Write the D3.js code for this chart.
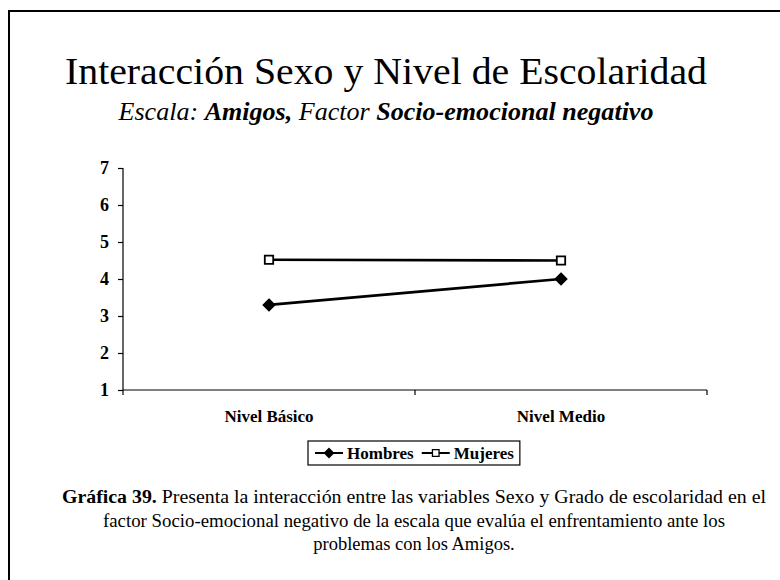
<!DOCTYPE html>
<html>
<head>
<meta charset="utf-8">
<script src="https://cdn.jsdelivr.net/npm/d3@7"></script>
<style>
  html, body { margin: 0; padding: 0; background: #fff; }
  svg { display: block; }
  text { fill: #000; }
</style>
</head>
<body>
<svg id="chart" width="780" height="580"></svg>
<script>
// Data
const categories = ["Nivel Básico", "Nivel Medio"];
const hombres = [3.3, 4.0];
const mujeres = [4.52, 4.5];
const yTicks = [1, 2, 3, 4, 5, 6, 7];
const seriesNames = ["Hombres", "Mujeres"];
const captionLines = [
  [{t: "Gráfica 39.", b: true}, {t: " Presenta la interacción entre las variables Sexo y Grado de escolaridad en el"}],
  [{t: "factor Socio-emocional negativo de la escala que evalúa el enfrentamiento ante los"}],
  [{t: "problemas con los Amigos."}]
];

const svg = d3.select("#chart");
const serif = "'Liberation Serif', 'Times New Roman', serif";

// Outer frame (top and left edges visible)
svg.append("rect")
  .attr("x", 9).attr("y", 11)
  .attr("width", 800).attr("height", 600)
  .attr("fill", "none").attr("stroke", "#000").attr("stroke-width", 2);

// Title
svg.append("text")
  .attr("x", 386).attr("y", 84)
  .attr("text-anchor", "middle")
  .attr("font-family", serif)
  .attr("font-size", 38)
  .attr("textLength", 642).attr("lengthAdjust", "spacingAndGlyphs")
  .text("Interacción Sexo y Nivel de Escolaridad");

// Subtitle with mixed weight
const sub = svg.append("text")
  .attr("x", 386).attr("y", 120)
  .attr("text-anchor", "middle")
  .attr("font-family", serif)
  .attr("font-size", 26)
  .attr("font-style", "italic")
  .attr("textLength", 535).attr("lengthAdjust", "spacingAndGlyphs");
[["Escala: ", false], ["Amigos,", true], [" Factor ", false], ["Socio-emocional negativo", true]]
  .forEach(([t, b]) => sub.append("tspan").attr("font-weight", b ? "bold" : "normal").text(t));

// Scales
const x = d3.scaleBand().domain(categories).range([123, 707]);
const y = d3.scaleLinear().domain([1, 7]).range([390, 168]);

// Y axis
const yAxis = svg.append("g")
  .attr("transform", "translate(123,0)")
  .call(d3.axisLeft(y).tickValues(yTicks).tickFormat(d3.format("d")).tickSize(5).tickPadding(9));
yAxis.select(".domain").attr("stroke", "#000").attr("stroke-width", 1.2).attr("d", "M0,168V390");
yAxis.selectAll(".tick line").attr("stroke", "#000").attr("stroke-width", 1.2);
yAxis.selectAll(".tick text")
  .attr("font-family", serif).attr("font-size", 18).attr("font-weight", "bold");

// X axis: ticks on band boundaries, labels at band centres
const bounds = [x.range()[0], x(categories[1]), x.range()[1]];
const xg = svg.append("g").attr("transform", "translate(0,390)");
xg.append("line").attr("x1", bounds[0]).attr("x2", bounds[2])
  .attr("stroke", "#000").attr("stroke-width", 1.2);
xg.selectAll("line.tk").data(bounds).join("line").attr("class", "tk")
  .attr("x1", d => d).attr("x2", d => d).attr("y1", 0).attr("y2", 5)
  .attr("stroke", "#000").attr("stroke-width", 1.2);
xg.selectAll("text").data(categories).join("text")
  .attr("x", d => x(d) + x.bandwidth() / 2)
  .attr("y", 32)
  .attr("text-anchor", "middle")
  .attr("font-family", serif).attr("font-size", 17).attr("font-weight", "bold")
  .text(d => d);

// Marker shapes: filled diamond (square turned 45°) and open square
const shapes = {
  diamond: (sz) => `M0,${-sz}L${sz},0L0,${sz}L${-sz},0Z`,
  square: (sz) => `M${-sz},${-sz}H${sz}V${sz}H${-sz}Z`
};

// Lines
const line = d3.line()
  .x((d, i) => x(categories[i]) + x.bandwidth() / 2)
  .y(d => y(d));
const series = [
  {name: seriesNames[0], values: hombres, shape: "diamond", fill: "#000", r: 5.5, lr: 4.5},
  {name: seriesNames[1], values: mujeres, shape: "square", fill: "#fff", r: 4.2, lr: 3.3}
];
series.forEach(s => {
  svg.append("path").datum(s.values)
    .attr("d", line).attr("fill", "none")
    .attr("stroke", "#000").attr("stroke-width", 2.7);
  svg.selectAll(null).data(s.values).join("path")
    .attr("transform", (d, i) => `translate(${x(categories[i]) + x.bandwidth() / 2},${y(d)})`)
    .attr("d", shapes[s.shape](s.r))
    .attr("fill", s.fill).attr("stroke", "#000").attr("stroke-width", 1.8);
});

// Legend
const lg = svg.append("g");
const lgY = 453;
let cx = 315;
series.forEach((s) => {
  lg.append("line").attr("x1", cx).attr("x2", cx + 28).attr("y1", lgY).attr("y2", lgY)
    .attr("stroke", "#000").attr("stroke-width", 2);
  lg.append("path").attr("transform", `translate(${cx + 14},${lgY})`)
    .attr("d", shapes[s.shape](s.lr))
    .attr("fill", s.fill).attr("stroke", "#000").attr("stroke-width", 1.3);
  const t = lg.append("text").attr("x", cx + 32).attr("y", lgY + 6)
    .attr("font-family", serif).attr("font-size", 17).attr("font-weight", "bold")
    .text(s.name);
  cx += 32 + t.node().getComputedTextLength() + 8;
});
lg.insert("rect", ":first-child")
  .attr("x", 308).attr("y", 441).attr("width", cx - 2 - 308).attr("height", 24)
  .attr("fill", "#fff").attr("stroke", "#000").attr("stroke-width", 1.2);

// Caption (first two lines fitted to the text block width)
const capY = [503, 527, 550];
const capW = [704, 622, null];
captionLines.forEach((parts, i) => {
  const t = svg.append("text")
    .attr("x", 414).attr("y", capY[i])
    .attr("text-anchor", "middle")
    .attr("font-family", serif).attr("font-size", 18.5);
  if (capW[i]) t.attr("textLength", capW[i]).attr("lengthAdjust", "spacingAndGlyphs");
  parts.forEach(p => t.append("tspan").attr("font-weight", p.b ? "bold" : "normal").text(p.t));
});
</script>
</body>
</html>
